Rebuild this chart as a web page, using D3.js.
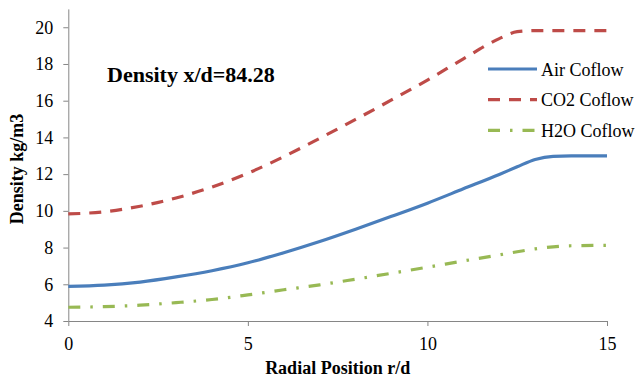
<!DOCTYPE html>
<html><head><meta charset="utf-8">
<script src="https://cdn.jsdelivr.net/npm/d3@7"></script>
<style>body{margin:0;background:#fff}svg{display:block}</style>
</head><body>
<script>
const radial = [0,1,2,3,4,5,6,7,8,9,10,11,12,12.5,13,13.5,14,15];
const airCoflow = [5.89,5.95,6.12,6.4,6.74,7.17,7.72,8.33,9.0,9.7,10.42,11.2,11.98,12.4,12.8,12.97,12.99,12.99];
const co2Coflow = [9.83,9.95,10.25,10.7,11.3,12.05,12.95,13.95,14.98,16.04,17.12,18.28,19.38,19.76,19.82,19.82,19.82,19.82];
const h2oCoflow = [4.75,4.78,4.86,5.0,5.17,5.42,5.7,5.97,6.28,6.6,6.93,7.27,7.6,7.77,7.93,8.04,8.1,8.12];
const xTicks = [0,5,10,15];
const yTicks = [4,6,8,10,12,14,16,18,20];
const seriesNames = ["Air Coflow","CO2 Coflow","H2O Coflow"];
const seriesColors = ["#4a7ebb","#be4b48","#98b954"];
const seriesDash = [null,"12,9","12,10,2.5,10"];

const FONT = "'Liberation Serif', 'Times New Roman', Times, Tinos, 'DejaVu Serif', serif";
const W=635,H=382;
const svg=d3.select("body").append("svg").attr("width",W).attr("height",H)
  .style("font-family",FONT);
const x=d3.scaleLinear().domain([0,15]).range([68.3,607]);
const y=d3.scaleLinear().domain([4,21]).range([321,8.9]);
const axisColor="#868686";

const xa=svg.append("g").attr("transform",`translate(0,${y(4)})`)
  .call(d3.axisBottom(x).tickValues(xTicks).tickSize(5).tickSizeOuter(0).tickPadding(11));
const ya=svg.append("g").attr("transform",`translate(${x(0)},0)`)
  .call(d3.axisLeft(y).tickValues(yTicks).tickSize(5).tickSizeOuter(0).tickPadding(10));
[xa,ya].forEach(g=>{
  g.attr("font-family",null).attr("font-size",null);
  g.selectAll("path,line").attr("stroke",axisColor);
  g.selectAll("text").style("font-family",FONT).style("font-size","18px").attr("fill","#000");
});

const data=[airCoflow,co2Coflow,h2oCoflow];
const line=d3.line().x((d,i)=>x(radial[i])).y(d=>y(d)).curve(d3.curveMonotoneX);
data.forEach((s,k)=>{
  svg.append("path").datum(s).attr("d",line).attr("fill","none")
    .attr("stroke",seriesColors[k]).attr("stroke-width",3.2)
    .attr("stroke-dasharray",seriesDash[k]);
});

svg.append("text").attr("x",107).attr("y",82).style("font-family",FONT).style("font-size","22px").attr("font-weight","bold").text("Density x/d=84.28");

const lg=svg.append("g");
seriesNames.forEach((n,k)=>{
  const cy=69+k*30.7;
  lg.append("line").attr("x1",488).attr("x2",537).attr("y1",cy).attr("y2",cy)
    .attr("stroke",seriesColors[k]).attr("stroke-width",3.2).attr("stroke-dasharray",seriesDash[k]);
  lg.append("text").attr("x",541).attr("y",cy+6.5).style("font-family",FONT).style("font-size","18px").text(n);
});

svg.append("text").attr("x",(x(0)+x(15))/2).attr("y",374).attr("text-anchor","middle")
  .style("font-family",FONT).style("font-size","18px").attr("font-weight","bold").text("Radial Position r/d");
svg.append("text").attr("transform","translate(23,169) rotate(-90)").attr("text-anchor","middle")
  .style("font-family",FONT).style("font-size","18px").attr("font-weight","bold").text("Density kg/m3");
</script>
</body></html>
